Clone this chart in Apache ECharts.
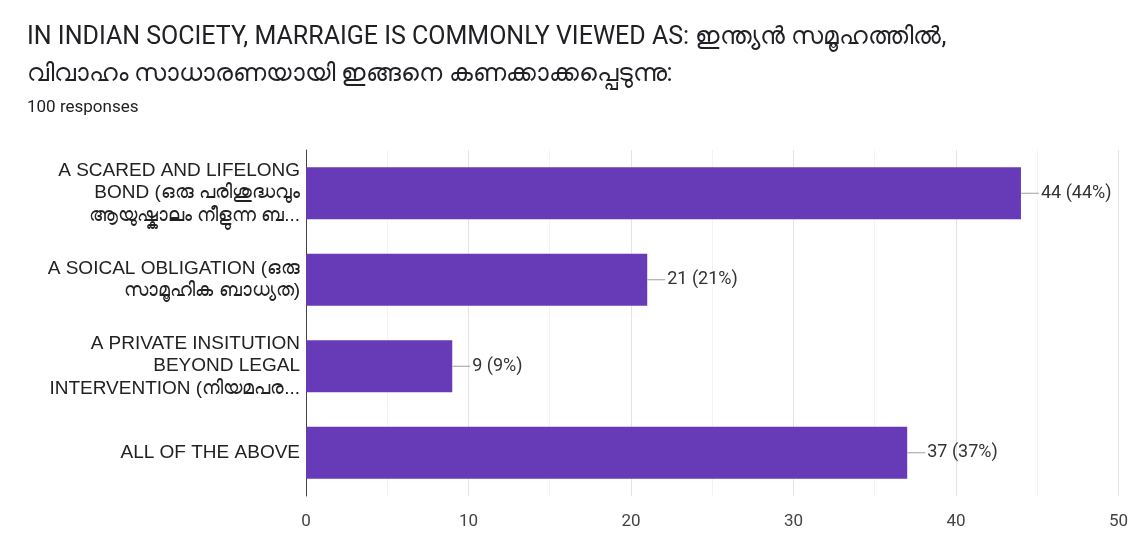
<!DOCTYPE html>
<html>
<head>
<meta charset="utf-8">
<script src="https://cdn.jsdelivr.net/npm/echarts@6/dist/echarts.min.js"></script>
<style>
  html, body { margin: 0; padding: 0; background: #fff; }
  #chart { width: 1131px; height: 536px; }
</style>
</head>
<body>
<div id="chart"></div>
<script>
// Survey answers and their response counts (out of 100)
const categories = [
  'A SCARED AND LIFELONG\nBOND (ഒരു പരിശുദ്ധവും\nആയുഷ്കാലം നീളുന്ന ബ...',
  'A SOICAL OBLIGATION (ഒരു\nസാമൂഹിക ബാധ്യത)',
  'A PRIVATE INSITUTION\nBEYOND LEGAL\nINTERVENTION (നിയമപര...',
  'ALL OF THE ABOVE'
];
const counts = [44, 21, 9, 37];
const totalResponses = 100;
const xTicks = [0, 10, 20, 30, 40, 50];

const titleLines = [
  'IN INDIAN SOCIETY, MARRAIGE IS COMMONLY VIEWED AS: ഇന്ത്യൻ സമൂഹത്തിൽ,',
  'വിവാഹം സാധാരണയായി ഇങ്ങനെ കണക്കാക്കപ്പെടുന്നു:'
];
const subtitle = totalResponses + ' responses';

const chart = echarts.init(document.getElementById('chart'));
chart.setOption({
  backgroundColor: '#ffffff',
  animation: false,
  title: {
    text: titleLines.join('\n'),
    subtext: subtitle,
    left: 22,
    top: 14,
    itemGap: 6,
    textStyle: {
      fontFamily: 'Roboto, "Noto Sans", sans-serif',
      fontSize: 25,
      fontWeight: 'normal',
      color: '#202124',
      lineHeight: 37
    },
    subtextStyle: {
      fontFamily: 'Roboto, "Noto Sans", sans-serif',
      fontSize: 17,
      color: '#202124'
    }
  },
  grid: { left: 306, right: 11, top: 150, bottom: 40, containLabel: false },
  xAxis: {
    type: 'value',
    min: xTicks[0],
    max: xTicks[xTicks.length - 1],
    interval: 10,
    axisLine: { show: false },
    axisTick: { show: false },
    axisLabel: {
      color: '#444',
      fontSize: 17,
      fontFamily: 'Roboto, sans-serif',
      margin: 17
    },
    splitLine: { show: true, lineStyle: { color: '#e4e4e4' } },
    minorTick: { show: false, splitNumber: 2 },
    minorSplitLine: { show: true, lineStyle: { color: '#f3f3f3' } }
  },
  yAxis: {
    type: 'category',
    data: categories,
    inverse: true,
    axisLine: { show: true, lineStyle: { color: '#444', width: 1 } },
    axisTick: { show: false },
    axisLabel: {
      color: '#222',
      fontSize: 19,
      lineHeight: 22.5,
      fontFamily: 'Arial, "Liberation Sans", sans-serif',
      margin: 6,
      align: 'right'
    }
  },
  series: [{
    type: 'bar',
    data: counts,
    barWidth: '60%',
    itemStyle: { color: '#673ab7' },
    label: {
      show: true,
      position: 'right',
      distance: 0,
      formatter: function (p) {
        const pct = Math.round(p.value / totalResponses * 100);
        return '{l|}{v|' + p.value + ' (' + pct + '%)}';
      },
      rich: {
        l: { width: 18, height: 1, backgroundColor: '#9e9e9e' },
        v: { color: '#333', fontSize: 18, fontFamily: 'Roboto, sans-serif', padding: [0, 0, 0, 2] }
      }
    }
  }]
});
</script>
</body>
</html>
